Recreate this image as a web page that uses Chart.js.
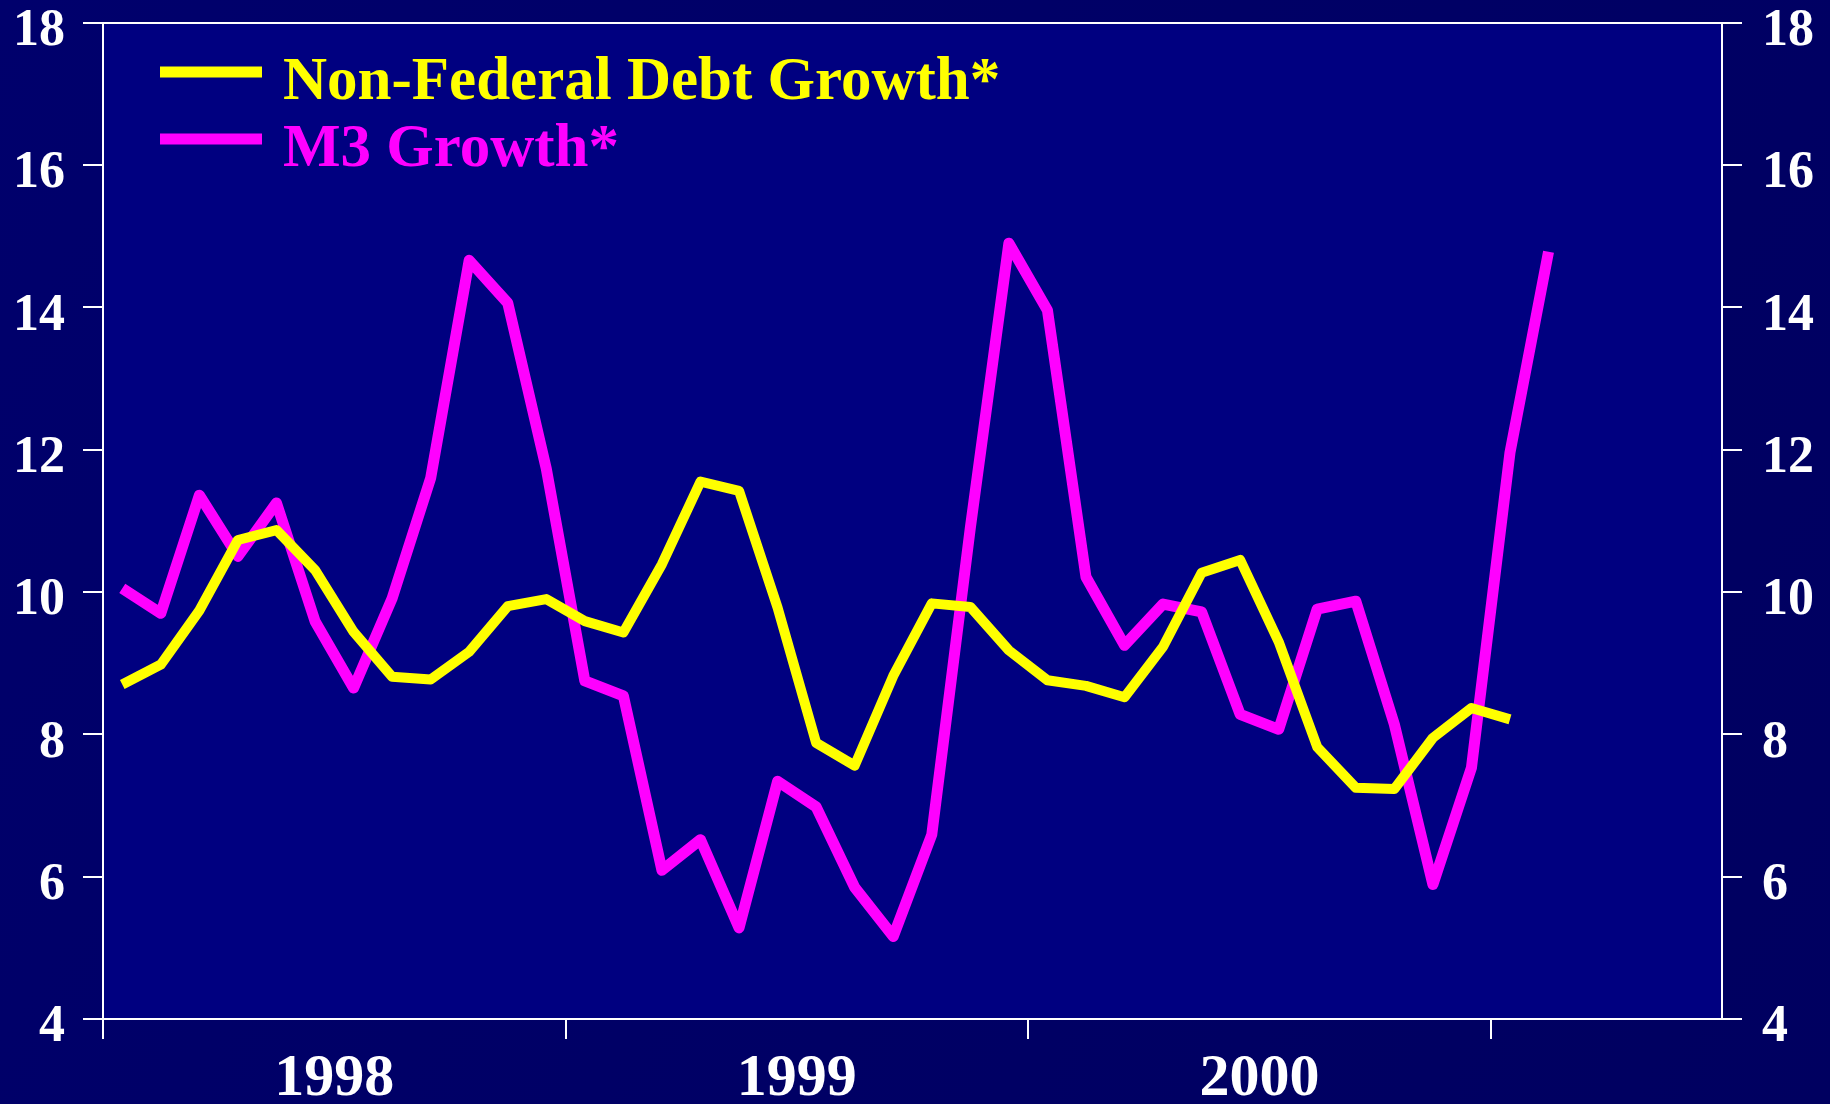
<!DOCTYPE html>
<html>
<head>
<meta charset="utf-8">
<title>Non-Federal Debt Growth and M3 Growth</title>
<script src="https://cdn.jsdelivr.net/npm/chart.js@4/dist/chart.umd.min.js"></script>
<style>
    html, body { margin: 0; padding: 0; background: #000066; }
    #chart { display: block; }
</style>
</head>
<body>
<canvas id="chart" width="1830" height="1104"></canvas>
<script>
// Monthly growth rates, Jan 1998 onwards (percent)
const years = ['1998', '1999', '2000'];
const debtGrowth = [
    8.70, 8.98, 9.74, 10.73, 10.87, 10.31, 9.44, 8.81, 8.77, 9.16, 9.80, 9.90,
    9.59, 9.43, 10.39, 11.55, 11.42, 9.78, 7.88, 7.56, 8.82, 9.84, 9.79, 9.18,
    8.76, 8.68, 8.52, 9.23, 10.27, 10.45, 9.30, 7.82, 7.25, 7.23, 7.95, 8.37,
    8.21
];
const m3Growth = [
    10.05, 9.70, 11.36, 10.50, 11.25, 9.59, 8.65, 9.91, 11.60, 14.66, 14.06, 11.73,
    8.75, 8.54, 6.09, 6.52, 5.28, 7.34, 6.98, 5.85, 5.16, 6.59, 10.90, 14.90,
    13.96, 10.21, 9.25, 9.83, 9.72, 8.28, 8.07, 9.76, 9.87, 8.14, 5.89, 7.53,
    11.96, 14.78
];
const seriesNames = ['Non-Federal Debt Growth*', 'M3 Growth*'];
const seriesColors = ['#ffff00', '#ff00ff'];

const FONT = "'Liberation Serif', 'Times New Roman', serif";

// each month sits in the middle of its slot on the time axis
const toPoints = values => values.map((v, i) => ({ x: i + 0.5, y: v }));

// Backgrounds: dark frame around a navy plot area
const backdrop = {
    id: 'backdrop',
    beforeDraw(chart) {
        const { ctx, chartArea: a, width, height } = chart;
        ctx.save();
        let g = ctx.createLinearGradient(0, 0, width, height);
        g.addColorStop(0, '#00006c');
        g.addColorStop(1, '#000060');
        ctx.fillStyle = g;
        ctx.fillRect(0, 0, width, height);
        ctx.fillStyle = '#000080';
        ctx.fillRect(a.left, a.top, a.right - a.left, a.bottom - a.top);
        ctx.restore();
    }
};

// Legend drawn inside the plot, top left
const insideLegend = {
    id: 'insideLegend',
    afterDatasetsDraw(chart) {
        const ctx = chart.ctx;
        ctx.save();
        ctx.font = `bold 61px ${FONT}`;
        ctx.textBaseline = 'alphabetic';
        chart.data.datasets.forEach((ds, i) => {
            let y = 72 + i * 67;
            ctx.strokeStyle = ds.borderColor;
            ctx.lineWidth = 11;
            ctx.beginPath();
            ctx.moveTo(160, y);
            ctx.lineTo(262, y);
            ctx.stroke();
            ctx.fillStyle = ds.borderColor;
            ctx.fillText(ds.label, 283, y + 27);
        });
        ctx.restore();
    }
};

// small lineHeight keeps the top label from pushing the plot down
const yAxis = position => ({
    type: 'linear',
    position: position,
    min: 4,
    max: 18,
    afterFit: scale => { scale.width = position === 'left' ? 103 : 108; },
    ticks: {
        stepSize: 2,
        color: '#ffffff',
        font: { family: FONT, size: 52, weight: 'bold', lineHeight: 0.1 },
        padding: position === 'left' ? 18 : 20,
        labelOffset: 9
    },
    grid: { drawOnChartArea: false, color: '#ffffff', lineWidth: 2, tickLength: 20 },
    border: { color: '#ffffff', width: 2 }
});

new Chart(document.getElementById('chart'), {
    type: 'line',
    data: {
        datasets: [
            {
                label: seriesNames[0],
                data: toPoints(debtGrowth),
                borderColor: seriesColors[0],
                borderWidth: 10
            },
            {
                label: seriesNames[1],
                data: toPoints(m3Growth),
                borderColor: seriesColors[1],
                borderWidth: 11
            }
        ]
    },
    options: {
        responsive: false,
        animation: false,
        layout: { autoPadding: false, padding: { top: 19, left: 0, right: 0, bottom: 0 } },
        elements: {
            point: { radius: 0 },
            line: { tension: 0, borderJoinStyle: 'round', borderCapStyle: 'butt' }
        },
        plugins: {
            legend: { display: false },
            tooltip: { enabled: false }
        },
        scales: {
            x: {
                type: 'linear',
                position: 'bottom',
                min: 0,
                max: 42,
                afterFit: scale => { scale.height = 85; },
                // year boundaries get tick marks, year middles get the labels
                afterBuildTicks: scale => {
                    scale.ticks = [0, 6, 12, 18, 24, 30, 36].map(v => ({ value: v }));
                },
                ticks: {
                    autoSkip: false,
                    maxRotation: 0,
                    color: '#ffffff',
                    font: { family: FONT, size: 60, weight: 'bold' },
                    padding: 4,
                    callback: v => (v % 12 === 6 ? years[(v - 6) / 12] : '')
                },
                grid: {
                    drawOnChartArea: false,
                    lineWidth: 2,
                    tickLength: 20,
                    color: c => (c.tick && c.tick.value % 12 === 0 ? '#ffffff' : 'transparent')
                },
                border: { color: '#ffffff', width: 2 }
            },
            xTop: {
                type: 'linear',
                position: 'top',
                min: 0,
                max: 42,
                afterFit: scale => { scale.height = 0; },
                ticks: { display: false },
                grid: { display: false },
                border: { color: '#ffffff', width: 2 }
            },
            y: yAxis('left'),
            y2: yAxis('right')
        }
    },
    plugins: [backdrop, insideLegend]
});
</script>
</body>
</html>
